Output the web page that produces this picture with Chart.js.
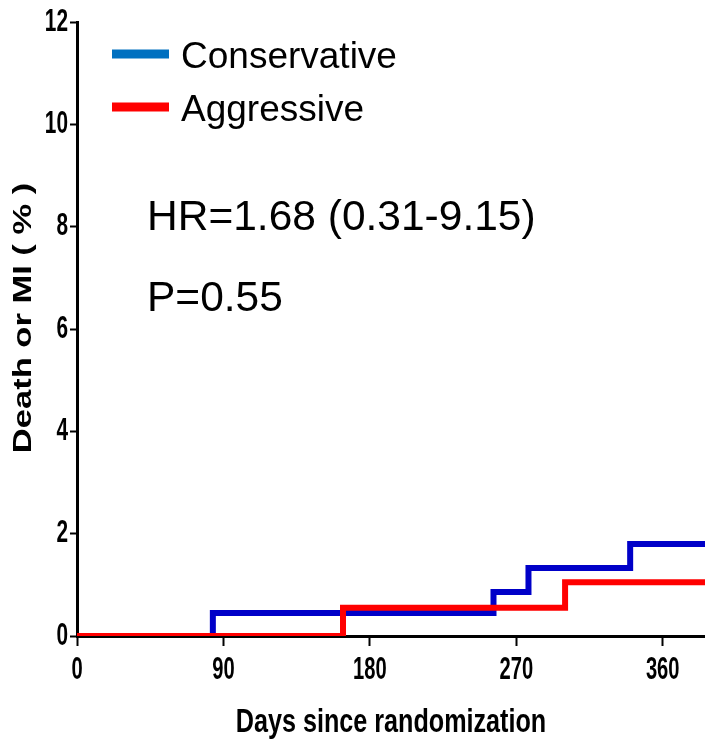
<!DOCTYPE html>
<html>
<head>
<meta charset="utf-8">
<script src="https://cdn.jsdelivr.net/npm/chart.js@4"></script>
<style>
html,body{margin:0;padding:0;background:#fff;}
#wrap{width:705px;height:740px;position:relative;}
</style>
</head>
<body>
<div id="wrap"><canvas id="c" width="705" height="740"></canvas></div>
<script>
// ---- data ----
const seriesNames = ['Conservative', 'Aggressive'];
const conservativeDays = [0, 83.5, 256, 277.5, 340, 386];
const conservativeRisk = [0, 0.45, 0.86, 1.33, 1.80, 1.80];
const aggressiveDays = [0, 163.5, 300, 386];
const aggressiveRisk = [0, 0.55, 1.05, 1.05];
const xTicks = [0, 90, 180, 270, 360];
const yTicks = [0, 2, 4, 6, 8, 10, 12];
const xTitle = 'Days since randomization';
const yTitle = 'Death or MI ( % )';
const statLines = ['HR=1.68 (0.31-9.15)', 'P=0.55'];

const toPts = (xs, ys) => xs.map((x, i) => ({x: x, y: ys[i]}));

// Text-width styling: the reference uses a condensed face for ticks / x title
// and a stretched face for the y title. Emulate by horizontal scaling of glyphs
// around each text's own anchor.
const textStyles = {
  TickFace:   {sx: 0.65, dx: 0},
  XTitleFace: {sx: 0.74, dx: 0},
  YTitleFace: {sx: 1.38, dx: 11}
};
const origFill = CanvasRenderingContext2D.prototype.fillText;
CanvasRenderingContext2D.prototype.fillText = function (t, x, y, mw) {
  const f = this.font || '';
  for (const k in textStyles) {
    if (f.indexOf(k) !== -1) {
      const st = textStyles[k];
      this.save();
      this.translate(x + st.dx, y);
      this.scale(st.sx, 1);
      origFill.call(this, t, 0, 0);
      this.restore();
      return;
    }
  }
  return mw === undefined ? origFill.call(this, t, x, y) : origFill.call(this, t, x, y, mw);
};

const sans = '"Liberation Sans", Arial, sans-serif';
const face = (mark) => mark + ', "Liberation Sans", Arial, sans-serif';

const overlay = {
  id: 'overlay',
  afterDraw(chart) {
    const ctx = chart.ctx;
    ctx.save();
    const legendColors = ['#0070C0', '#FF0000'];
    const ly = [54, 107];
    seriesNames.forEach((n, i) => {
      ctx.fillStyle = legendColors[i];
      ctx.fillRect(112, ly[i] - 4.5, 57, 9);
      ctx.fillStyle = '#000';
      ctx.font = '37px ' + sans;
      ctx.textBaseline = 'alphabetic';
      ctx.textAlign = 'left';
      ctx.fillText(n, 181, ly[i] + 14);
    });
    ctx.font = '42.5px ' + sans;
    ctx.fillStyle = '#000';
    ctx.fillText(statLines[0], 147, 230);
    ctx.fillText(statLines[1], 147, 311);
    ctx.restore();
  }
};

new Chart(document.getElementById('c'), {
  type: 'line',
  data: {
    datasets: [
      {
        label: seriesNames[1],
        data: toPts(aggressiveDays, aggressiveRisk),
        borderColor: '#FF0000',
        borderWidth: 6,
        stepped: 'before',
        pointRadius: 0,
        fill: false
      },
      {
        label: seriesNames[0],
        data: toPts(conservativeDays, conservativeRisk),
        borderColor: '#0000C8',
        borderWidth: 6,
        stepped: 'before',
        pointRadius: 0,
        fill: false
      }
    ]
  },
  options: {
    responsive: false,
    animation: false,
    layout: {padding: {top: 22, right: 0, left: 0, bottom: 0}},
    plugins: {legend: {display: false}, tooltip: {enabled: false}},
    scales: {
      x: {
        type: 'linear',
        min: 0,
        max: 386,
        afterFit(s) { s.height = 104; },
        afterBuildTicks(s) { s.ticks = xTicks.map(v => ({value: v})); },
        ticks: {
          includeBounds: false,
          color: '#000',
          padding: 6,
          maxRotation: 0,
          autoSkip: false,
          font: {family: face('TickFace'), size: 31, weight: 'bold'}
        },
        grid: {display: true, drawOnChartArea: false, drawTicks: true, tickLength: 10, tickColor: '#000', tickWidth: 2},
        border: {display: true, color: '#000', width: 3},
        title: {
          display: true,
          text: xTitle,
          color: '#000',
          font: {family: face('XTitleFace'), size: 34, weight: 'bold'},
          padding: {top: 0, bottom: -3}
        }
      },
      y: {
        type: 'linear',
        min: 0,
        max: 12,
        afterFit(s) { s.width = 77; },
        afterBuildTicks(s) { s.ticks = yTicks.map(v => ({value: v})); },
        ticks: {
          color: '#000',
          padding: 2,
          autoSkip: false,
          font: {family: face('TickFace'), size: 32, weight: 'bold'}
        },
        grid: {display: true, drawOnChartArea: false, drawTicks: true, tickLength: 7, tickColor: '#000', tickWidth: 2},
        border: {display: true, color: '#000', width: 3},
        title: {
          display: true,
          text: yTitle,
          color: '#000',
          font: {family: face('YTitleFace'), size: 25, weight: 'bold'},
          padding: {top: 9, bottom: 0}
        }
      }
    }
  },
  plugins: [overlay]
});
</script>
</body>
</html>
